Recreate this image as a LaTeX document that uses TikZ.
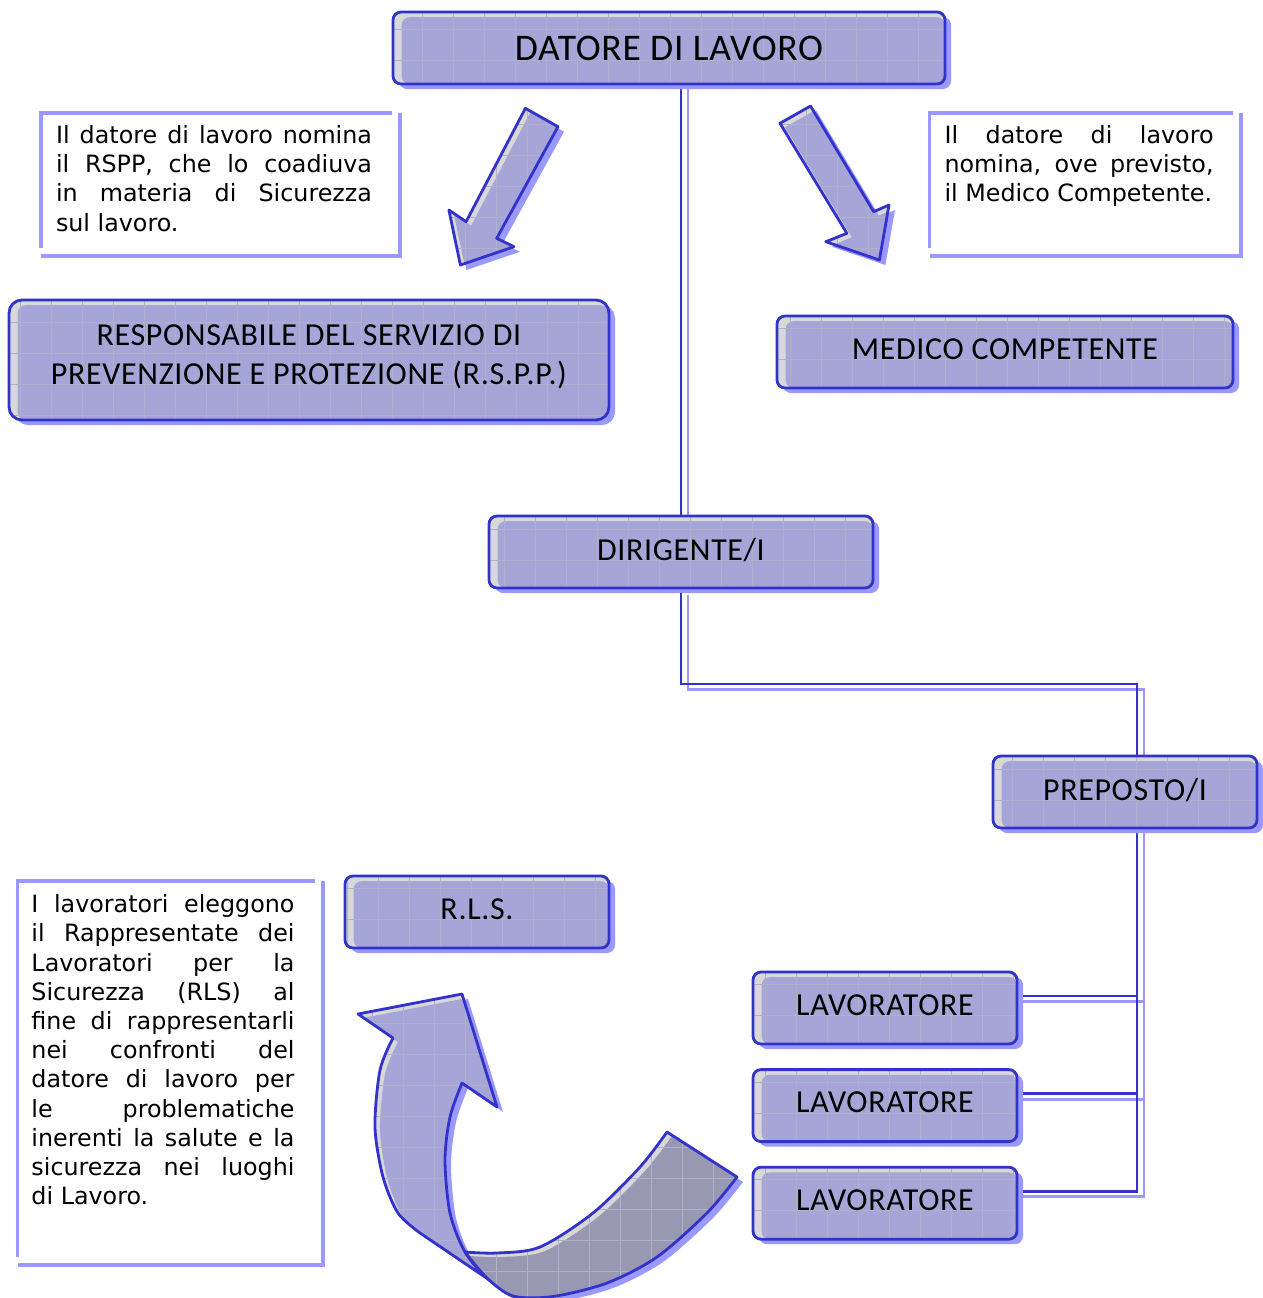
\documentclass[tikz,border=0pt]{standalone}
\usepackage{fontspec}
\usepackage{xcolor}
\usetikzlibrary{positioning, shadows, backgrounds}

\newfontfamily\rolefont[LetterSpace=2]{Carlito}
\newfontfamily\notefont{DejaVu Sans}

\definecolor{rolefill}{HTML}{A5A5D8}
\definecolor{roleedge}{HTML}{3333CC}
\definecolor{roleshadow}{HTML}{9999FF}
\definecolor{rolestrip}{HTML}{D8D8D8}
\definecolor{twistfill}{HTML}{9898B2}
\definecolor{gridtone}{HTML}{B0B0CC}

\tolerance=10000
\hyphenpenalty=10000
\hbadness=10000

% outlines of the block arrows (picture units are pixels)
\newcommand{\rsppdart}{(525.4,108.3) -- (558,126.7) -- (496.7,238.3) -- (514,246.7)
  -- (460.4,265) -- (448.9,210) -- (466.1,221.7) -- cycle}
\newcommand{\medicdart}{(780,123.3) -- (810.5,106) -- (873.7,211.7) -- (889,205)
  -- (879.4,260) -- (825.8,241.7) -- (846.9,233.3) -- cycle}
\newcommand{\rlsupper}{plot[smooth] coordinates {(420,1233) (398,1213) (383,1177) (375,1127) (380,1070) (393,1038)}
  -- (358,1014) -- (462,994) -- (497,1107) -- (462,1083)
  -- plot[smooth] coordinates {(462,1083) (450,1117) (445,1160) (450,1213) (465,1252) (487,1278) (513,1296)} -- cycle}
\newcommand{\rlslower}{plot[smooth] coordinates {(465,1252) (497,1253) (540,1247) (593,1213) (640,1167) (667,1132)}
  -- (737,1177)
  -- plot[smooth] coordinates {(737,1177) (707,1213) (657,1257) (607,1283) (553,1296.5) (513,1296) (487,1278) (465,1252)} -- cycle}

% #1 outline, #2 face colour
\newcommand{\drawdart}[2]{%
  \fill[rolestrip, roleshade] #1;
  \begin{scope}
    \clip #1;
    \fill[#2, shift={(5,4)}] #1;
    \draw[gridline] (0,1298) grid[step=15.5pt] (1263,0);
  \end{scope}
  \draw[roleedge, line width=1.4pt, line join=round] #1;
}

\begin{document}
\begin{tikzpicture}[x=0.5pt, y=-0.5pt]
	\tikzset{
		gridline/.style={draw=gridtone, line width=0.3pt},
		roleshade/.style={drop shadow={shadow xshift=3pt, shadow yshift=-2.5pt, fill=roleshadow, opacity=1}},
		rolebox/.style={draw=roleedge, line width=1.4pt, rounded corners=4pt, fill=rolestrip,
			align=center, inner sep=2pt, text depth=3pt, roleshade,
			font=\rolefont\fontsize{16}{19.5}\selectfont,
			path picture={
				\fill[rolefill, rounded corners=4pt] ([xshift=4.3pt, yshift=-2.6pt]path picture bounding box.north west) rectangle (path picture bounding box.south east);
				\draw[gridline] (path picture bounding box.south west) grid[step=15.5pt] (path picture bounding box.north east);
			}},
		noteframe/.style={inner sep=0pt, outer sep=0pt},
		noteline/.style={draw=roleshadow, line width=1.6pt},
		notetext/.style={align=justify, inner sep=0pt, outer sep=0pt,
			font=\notefont\fontsize{11.9}{14.6}\selectfont},
		link/.style={draw=roleedge, line width=1.4pt,
			preaction={draw=roleshadow, line width=1.4pt, transform canvas={shift={(3.5pt,-2.75pt)}}}},
	}
	\useasboundingbox (0,0) rectangle (1263,1298);

	%role boxes
	\node (datore) [rolebox, minimum width=276pt, minimum height=36pt, text depth={},
		font=\rolefont\fontsize{18.8}{22}\selectfont] at (669,48) {DATORE DI LAVORO};
	\node (rspp) [rolebox, minimum width=300pt, minimum height=60pt, rounded corners=6.5pt,
		text depth=5.4pt] at (309,360)
		{RESPONSABILE DEL SERVIZIO DI\\PREVENZIONE E PROTEZIONE (R.S.P.P.)};
	\node (medico) [rolebox, minimum width=228pt, minimum height=36pt] at (1005,352) {MEDICO COMPETENTE};
	\node (dirigente) [rolebox, minimum width=192pt, minimum height=36pt] at (681,552) {DIRIGENTE/I};
	\node (preposto) [rolebox, minimum width=132pt, minimum height=36pt] at (1125,792) {PREPOSTO/I};
	\node (rls) [rolebox, minimum width=132pt, minimum height=36pt] at (477,912) {R.L.S.};
	\node (lav1) [rolebox, minimum width=132pt, minimum height=36pt] at (885,1008) {LAVORATORE};
	\node (lav2) [rolebox, minimum width=132pt, minimum height=36pt, below=11.4pt of lav1] {LAVORATORE};
	\node (lav3) [rolebox, minimum width=132pt, minimum height=36pt, below=11.4pt of lav2] {LAVORATORE};

	%notes
	\node (rsppframe) [noteframe, minimum width=179.5pt, minimum height=71.5pt] at (220.5,184.5) {};
	\node (medicframe) [noteframe, minimum width=155.75pt, minimum height=71.5pt] at (1085.3,184.5) {};
	\node (rlsframe) [noteframe, minimum width=152.5pt, minimum height=192pt] at (170,1073) {};
	\node (rsppnote) [notetext, text width=158pt, below right=6.25pt and 7.5pt of rsppframe.north west]
		{Il datore di lavoro nomina\linebreak il RSPP, che lo coadiuva\linebreak
		in materia di Sicurezza\linebreak sul lavoro.};
	\node (medicnote) [notetext, text width=134.5pt, below right=6.25pt and 7.5pt of medicframe.north west]
		{Il datore di lavoro\linebreak nomina, ove previsto,\linebreak il Medico Competente.};
	\node (rlsnote) [notetext, text width=131.5pt, below right=6.85pt and 7pt of rlsframe.north west]
		{I lavoratori eleggono\linebreak il Rappresentate dei\linebreak Lavoratori per la\linebreak
		Sicurezza (RLS) al\linebreak fine di rappresentarli\linebreak nei confronti del\linebreak
		datore di lavoro per\linebreak le problematiche\linebreak inerenti la salute e la\linebreak
		sicurezza nei luoghi\linebreak di Lavoro.};
	\foreach \f in {rsppframe, medicframe, rlsframe} {
		\draw[noteline] ([yshift=4pt]\f.south west) -- (\f.north west) -- ([xshift=-4pt]\f.north east);
		\draw[noteline, line width=2pt] (\f.north east) -- (\f.south east) -- (\f.south west);
	}

	%block arrows
	\drawdart{\rsppdart}{rolefill}
	\drawdart{\medicdart}{rolefill}
	\drawdart{\rlsupper}{rolefill}
	\drawdart{\rlslower}{twistfill}

	%connectors
	\coordinate (bend) at (1137,684);
	\begin{pgfonlayer}{background}
		\draw[link] (dirigente |- datore) -- (dirigente);
		\draw[link] (dirigente) |- (bend) -- (bend |- preposto);
		\foreach \w in {lav1, lav2, lav3}
			\draw[link] ([yshift=6pt]\w.center) -| (bend |- preposto);
	\end{pgfonlayer}
\end{tikzpicture}
\end{document}
